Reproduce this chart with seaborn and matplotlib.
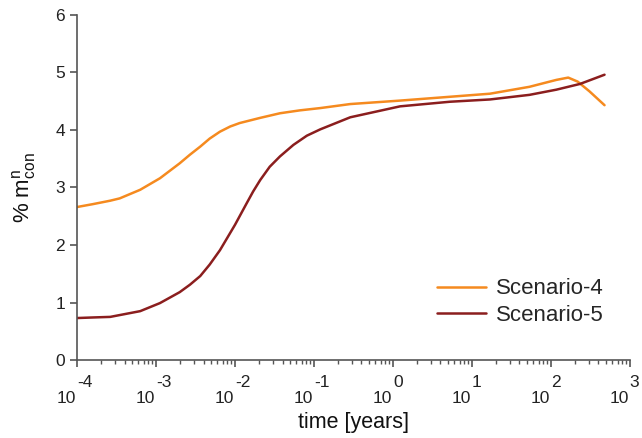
import pandas as pd
import matplotlib
import matplotlib.pyplot as plt
import seaborn as sns
import numpy as np

# log10(time in years) and % m_con^n
log_t4 = [-4.0, -3.8, -3.58, -3.46, -3.2, -2.95, -2.7, -2.57, -2.44, -2.32,
          -2.19, -2.06, -1.94, -1.68, -1.43, -1.18, -0.92, -0.54, 0.09, 0.85,
          1.23, 1.73, 2.07, 2.22, 2.34, 2.49, 2.68]
scen4 = [2.66, 2.71, 2.77, 2.81, 2.96, 3.16, 3.42, 3.57, 3.71, 3.85,
         3.97, 4.06, 4.12, 4.21, 4.29, 4.34, 4.38, 4.45, 4.51, 4.59,
         4.63, 4.75, 4.87, 4.91, 4.84, 4.67, 4.43]

log_t5 = [-4.0, -3.8, -3.58, -3.2, -2.95, -2.7, -2.57, -2.44, -2.32, -2.19,
          -2.0, -1.85, -1.77, -1.68, -1.56, -1.43, -1.26, -1.09, -0.92, -0.54,
          0.09, 0.72, 1.23, 1.73, 2.07, 2.37, 2.68]
scen5 = [0.73, 0.74, 0.75, 0.85, 0.99, 1.18, 1.31, 1.46, 1.66, 1.91,
         2.35, 2.73, 2.93, 3.13, 3.36, 3.54, 3.74, 3.90, 4.01, 4.22,
         4.41, 4.49, 4.53, 4.61, 4.70, 4.80, 4.96]

LABELS = ["Scenario-4", "Scenario-5"]
COLORS = {"Scenario-4": "#f58a1f", "Scenario-5": "#8b1e1e"}
EXPONENTS = list(range(-4, 4))

df = pd.concat([
    pd.DataFrame({"time": 10.0 ** np.array(log_t4), "val": scen4,
                  "scenario": LABELS[0]}),
    pd.DataFrame({"time": 10.0 ** np.array(log_t5), "val": scen5,
                  "scenario": LABELS[1]}),
], ignore_index=True)

sns.set_style("ticks")
plt.rcParams["font.family"] = ["Liberation Sans", "DejaVu Sans"]
plt.rcParams["mathtext.fontset"] = "custom"
plt.rcParams["mathtext.rm"] = "Liberation Sans"
plt.rcParams["mathtext.it"] = "Liberation Sans"

fig = plt.figure(figsize=(6.42, 4.38), dpi=100)
ax = fig.add_axes([0.12, 0.178, 0.861, 0.788])

sns.lineplot(data=df, x="time", y="val", hue="scenario", palette=COLORS,
             linewidth=1.8, sort=False, estimator=None, ax=ax)

ax.set_xscale("log")
ax.set_xlim(1e-4, 1e3)
ax.set_ylim(0, 6)
ax.set_yticks(range(7))
ax.set_xticks(10.0 ** np.array(EXPONENTS, dtype=float))
ax.set_xticklabels([])
ax.xaxis.set_minor_locator(matplotlib.ticker.LogLocator(base=10, subs=np.arange(2, 10)))
ax.xaxis.set_minor_formatter(matplotlib.ticker.NullFormatter())

# old-style tick labels: "10" left of the tick, exponent raised to the right
for e in EXPONENTS:
    ax.annotate("10", xy=(10.0 ** e, 0), xycoords=("data", "axes fraction"),
                xytext=(-0.5, -27.5), textcoords="offset points",
                ha="right", va="center", fontsize=12.5, color="#222222",
                annotation_clip=False)
    ax.annotate(str(e), xy=(10.0 ** e, 0), xycoords=("data", "axes fraction"),
                xytext=(0, -16.5), textcoords="offset points",
                ha="left", va="center", fontsize=12.5, color="#222222",
                annotation_clip=False)

sns.despine(ax=ax)
for side in ["left", "bottom"]:
    ax.spines[side].set_color("#555555")
    ax.spines[side].set_linewidth(1.2)
ax.tick_params(which="major", length=5, width=1.2, color="#555555",
               labelsize=12.5, labelcolor="#222222")
ax.tick_params(which="minor", length=3, width=1.0, color="#555555")

ax.set_xlabel("time [years]", fontsize=15.5, color="#111111")
ax.xaxis.set_label_coords(0.5, -0.152)
ax.set_ylabel(r"% $\mathregular{m^{n}_{con}}$", fontsize=16, color="#111111")
ax.yaxis.set_label_coords(-0.07, 0.5)

ax.legend(frameon=False, fontsize=16, loc="upper left",
          bbox_to_anchor=(0.635, 0.262), handlelength=2.2,
          handletextpad=0.45, labelspacing=0.25, borderpad=0.4,
          borderaxespad=0, title=None)

fig.savefig("out.png", dpi=100)
